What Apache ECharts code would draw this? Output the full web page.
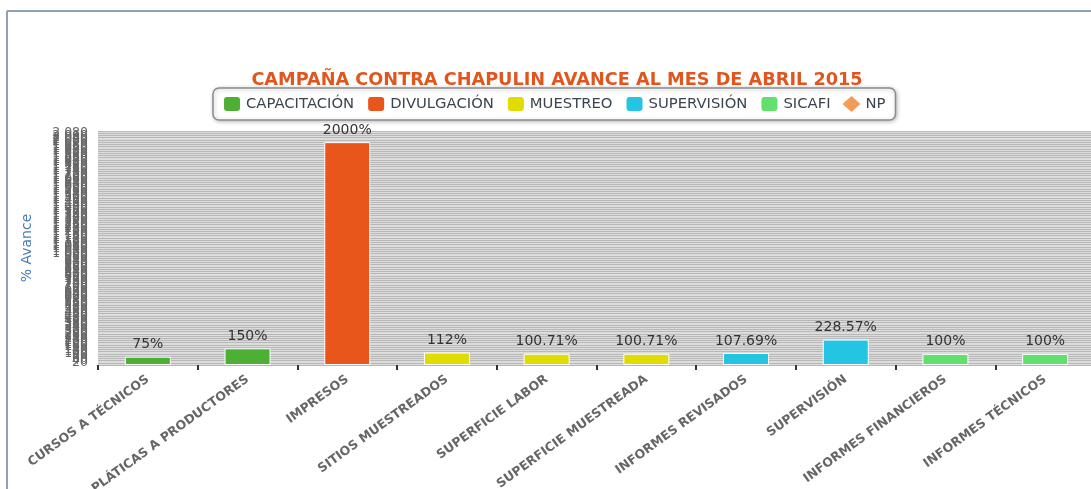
<!DOCTYPE html>
<html><head><meta charset="utf-8">
<script src="https://cdn.jsdelivr.net/npm/echarts@6/dist/echarts.min.js"></script>
<style>html,body{margin:0;padding:0;background:#fff}#c{width:1091px;height:489px}</style>
</head><body><div id="c"></div>
<script>
const categories = ['CURSOS A TÉCNICOS','PLÁTICAS A PRODUCTORES','IMPRESOS','SITIOS MUESTREADOS','SUPERFICIE LABOR','SUPERFICIE MUESTREADA','INFORMES REVISADOS','SUPERVISIÓN','INFORMES FINANCIEROS','INFORMES TÉCNICOS'];
const capacitacion = [75,150,null,null,null,null,null,null,null,null];
const divulgacion  = [null,null,2000,null,null,null,null,null,null,null];
const muestreo     = [null,null,null,112,100.71,100.71,null,null,null,null];
const supervision  = [null,null,null,null,null,null,107.69,228.57,null,null];
const sicafi       = [null,null,null,null,null,null,null,null,100,100];
const np           = [null,null,null,null,null,null,null,null,null,null];
const seriesNames = ['CAPACITACIÓN','DIVULGACIÓN','MUESTREO','SUPERVISIÓN','SICAFI','NP'];
const colors = ['#4DB035','#E8561C','#E0DC00','#24C5E2','#62E06E','#F49B5A'];
const yMin = 0, yMax = 2100, yInterval = 20;

const chart = echarts.init(document.getElementById('c'));
const font = 'DejaVu Sans, Verdana, sans-serif';
function barSeries(name, data, color){
  return {name, type:'bar', stack:'all', data, barWidth:46,
    itemStyle:{color, borderColor:'#ffffff', borderWidth:1},
    label:{show:true, position:'top', distance:5, formatter:p=>p.value+'%', color:'#333', fontSize:14, fontFamily:font}};
}
chart.setOption({
  animation:false,
  title:{text:'CAMPAÑA CONTRA CHAPULIN AVANCE AL MES DE ABRIL 2015', left:552, top:66, textAlign:'center',
    textStyle:{color:'#E0561E', fontSize:17.7, fontWeight:'bold', fontFamily:font}},
  legend:{left:213, top:88, width:760, padding:[7,10,7,9], itemGap:12, itemWidth:18, itemHeight:16,
    borderColor:'#8C8C8C', borderWidth:1.5, borderRadius:6, backgroundColor:'#fff',
    shadowBlur:4, shadowColor:'rgba(0,0,0,0.25)', shadowOffsetX:1, shadowOffsetY:1,
    textStyle:{color:'#3A4550', fontSize:14.8, fontFamily:font},
    data:seriesNames.map((n,i)=>({name:n, icon: i===5 ? 'diamond' : 'roundRect'}))},
  grid:{left:98, top:131, width:997, height:234, show:true, backgroundColor:'#DCDCDC', borderWidth:0,
    containLabel:false, outerBoundsMode:'none'},
  xAxis:{type:'category', data:categories,
    axisLine:{show:false},
    axisTick:{show:true, length:5, lineStyle:{color:'#333', width:2}},
    axisLabel:{rotate:36, interval:0, margin:13, color:'#666', fontWeight:'bold', fontSize:12.5, fontFamily:font}},
  yAxis:{type:'value', min:yMin, max:yMax, interval:yInterval,
    name:'% Avance', nameLocation:'middle', nameGap:64, nameRotate:90,
    nameTextStyle:{color:'#4A7EB5', fontSize:14, fontFamily:font},
    axisLine:{show:false}, axisTick:{show:false},
    axisLabel:{color:'#666', fontSize:12.5, margin:10, fontFamily:font, hideOverlap:false,
      formatter:v=> v>=1000 ? Math.floor(v/1000)+' '+String(v%1000).padStart(3,'0') : String(v)},
    splitLine:{show:true, lineStyle:{color:'#B8B8B8', width:1}}},
  graphic:[
    {type:'line', shape:{x1:7,y1:11,x2:1095,y2:11}, style:{stroke:'#8DA2B6', lineWidth:2}},
    {type:'line', shape:{x1:7,y1:11,x2:7,y2:489}, style:{stroke:'#8DA2B6', lineWidth:2}}
  ],
  series:[
    barSeries(seriesNames[0], capacitacion, colors[0]),
    barSeries(seriesNames[1], divulgacion, colors[1]),
    barSeries(seriesNames[2], muestreo, colors[2]),
    barSeries(seriesNames[3], supervision, colors[3]),
    barSeries(seriesNames[4], sicafi, colors[4]),
    {name:seriesNames[5], type:'line', data:np, symbol:'diamond', itemStyle:{color:colors[5]}, lineStyle:{color:colors[5]}}
  ]
});
</script></body></html>
